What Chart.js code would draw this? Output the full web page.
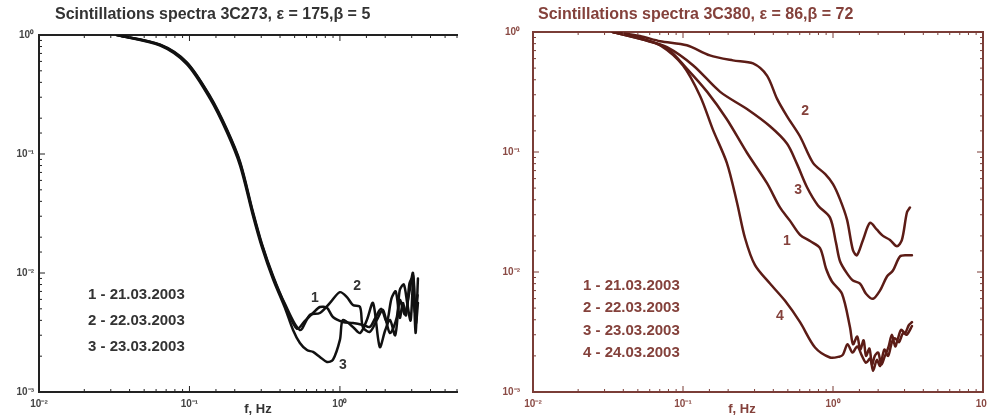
<!DOCTYPE html>
<html lang="en">
  <head>
    <meta charset="utf-8" />
    <title>Scintillations spectra 3C273 / 3C380</title>
    <script src="https://cdn.jsdelivr.net/npm/chart.js"></script>
    <style>
      body {
        margin: 0;
        width: 987px;
        height: 417px;
        overflow: hidden;
        position: relative;
        background: #fff;
      }
      #left {
        position: absolute;
        left: 0;
        top: 0;
      }
      #right {
        position: absolute;
        left: 490px;
        top: 0;
      }
    </style>
  </head>
  <body>
    <canvas id="left" width="490" height="417"></canvas>
    <canvas id="right" width="497" height="417"></canvas>

    <script>
      // 3C273 (left panel), f in Hz, spectrum normalised
      const f273_1 = [0.033, 0.064, 0.096, 0.137, 0.177, 0.217, 0.264, 0.303, 0.359, 0.431, 0.518, 0.59, 0.663, 0.736, 0.82, 0.898, 1.047, 1.22, 1.42, 1.58, 1.72, 1.88, 2.05, 2.2, 2.35, 2.5, 2.62, 2.75, 2.9, 3.03, 3.15, 3.28];
      const p273_1 = [1.0, 0.824, 0.582, 0.301, 0.159, 0.084, 0.0319, 0.0172, 0.00925, 0.00538, 0.0034, 0.004, 0.00461, 0.00518, 0.0051, 0.00427, 0.00388, 0.0038, 0.00366, 0.00352, 0.0042, 0.005, 0.0039, 0.0061, 0.007, 0.0042, 0.0056, 0.0044, 0.0082, 0.009, 0.0047, 0.0065];
      const f273_2 = [0.033, 0.064, 0.096, 0.137, 0.177, 0.217, 0.264, 0.303, 0.359, 0.431, 0.542, 0.633, 0.736, 0.859, 1.0, 1.113, 1.22, 1.36, 1.42, 1.58, 1.76, 1.93, 2.15, 2.39, 2.5, 2.66, 2.8, 2.95, 3.08, 3.2, 3.3];
      const p273_2 = [1.0, 0.83, 0.59, 0.306, 0.162, 0.086, 0.0328, 0.0176, 0.0095, 0.0055, 0.00332, 0.00446, 0.00461, 0.0056, 0.0069, 0.00628, 0.00538, 0.00518, 0.00352, 0.0032, 0.00403, 0.00489, 0.00313, 0.00427, 0.0072, 0.008, 0.0056, 0.004, 0.0095, 0.0038, 0.0056];
      const f273_3 = [0.033, 0.064, 0.096, 0.137, 0.177, 0.217, 0.264, 0.303, 0.359, 0.431, 0.488, 0.542, 0.604, 0.663, 0.736, 0.82, 0.898, 1.0, 1.047, 1.22, 1.36, 1.51, 1.66, 1.84, 2.0, 2.15, 2.33, 2.5, 2.7, 2.9, 3.06, 3.18, 3.3];
      const p273_3 = [1.0, 0.815, 0.57, 0.292, 0.153, 0.08, 0.0305, 0.0165, 0.0089, 0.0051, 0.00332, 0.00258, 0.00225, 0.00217, 0.00197, 0.00179, 0.00186, 0.00274, 0.00403, 0.00352, 0.00313, 0.00403, 0.0056, 0.00239, 0.0033, 0.00403, 0.003, 0.00593, 0.0045, 0.007, 0.01, 0.00313, 0.009];

      // 3C380 (right panel)
      const f380_1 = [0.0341, 0.0558, 0.0782, 0.106, 0.145, 0.196, 0.267, 0.363, 0.443, 0.516, 0.603, 0.703, 0.819, 0.898, 0.984, 1.148, 1.298, 1.36, 1.45, 1.52, 1.6, 1.66, 1.75, 1.82, 1.9, 2.0, 2.1, 2.22, 2.35, 2.47, 2.6, 2.71, 2.85, 3.02, 3.2, 3.36];
      const p380_1 = [1.0, 0.856, 0.732, 0.496, 0.317, 0.1875, 0.0986, 0.055, 0.0345, 0.0268, 0.0204, 0.0181, 0.0158, 0.0107, 0.00833, 0.00659, 0.00347, 0.0025, 0.0029, 0.00226, 0.0027, 0.002, 0.0023, 0.00169, 0.002, 0.00213, 0.0017, 0.002, 0.0024, 0.003, 0.0024, 0.0028, 0.0033, 0.0031, 0.0036, 0.00382];
      const f380_2 = [0.0341, 0.0516, 0.0703, 0.106, 0.151, 0.215, 0.293, 0.363, 0.424, 0.493, 0.603, 0.736, 0.885, 1.0, 1.114, 1.24, 1.358, 1.445, 1.585, 1.766, 1.963, 2.153, 2.4, 2.67, 2.88, 3.11, 3.26];
      const p380_2 = [1.0, 0.925, 0.839, 0.776, 0.639, 0.58, 0.547, 0.433, 0.277, 0.199, 0.1346, 0.0812, 0.0656, 0.054, 0.0403, 0.0273, 0.0152, 0.0138, 0.0185, 0.0257, 0.0225, 0.02, 0.0185, 0.0164, 0.0185, 0.0313, 0.0345];
      const f380_3 = [0.0341, 0.0558, 0.0782, 0.117, 0.177, 0.267, 0.38, 0.493, 0.575, 0.671, 0.794, 0.955, 1.047, 1.114, 1.24, 1.358, 1.514, 1.66, 1.849, 2.056, 2.29, 2.51, 2.8, 3.11, 3.36];
      const p380_3 = [1.0, 0.856, 0.747, 0.526, 0.317, 0.228, 0.1637, 0.1175, 0.0796, 0.0509, 0.0359, 0.0284, 0.0175, 0.0123, 0.00973, 0.00849, 0.00801, 0.00659, 0.00598, 0.00699, 0.00918, 0.0103, 0.0135, 0.0138, 0.0138];
      const f380_4 = [0.0341, 0.0516, 0.0703, 0.1, 0.13, 0.158, 0.196, 0.229, 0.259, 0.302, 0.38, 0.479, 0.603, 0.759, 0.955, 1.1, 1.166, 1.25, 1.35, 1.45, 1.56, 1.66, 1.77, 1.85, 1.96, 2.06, 2.2, 2.33, 2.47, 2.59, 2.75, 2.93, 3.1, 3.36];
      const p380_4 = [1.0, 0.89, 0.776, 0.526, 0.293, 0.1543, 0.0812, 0.038, 0.0192, 0.0114, 0.00801, 0.00575, 0.00382, 0.00235, 0.00194, 0.00197, 0.00205, 0.0025, 0.00213, 0.0024, 0.002, 0.00175, 0.0019, 0.0015, 0.00185, 0.00165, 0.00226, 0.002, 0.0026, 0.0028, 0.0026, 0.0031, 0.003, 0.00354];

      const legend273 = ["1 - 21.03.2003", "2 - 22.03.2003", "3 - 23.03.2003"];
      const legend380 = ["1 - 21.03.2003", "2 - 22.03.2003", "3 - 23.03.2003", "4 - 24.03.2003"];

      const FONT = "'Liberation Sans', Arial, sans-serif";
      const sup = { "-": "⁻", 0: "⁰", 1: "¹", 2: "²", 3: "³" };

      function isDecade(v) {
        const e = Math.log10(v);
        return Math.abs(e - Math.round(e)) < 1e-6;
      }
      function powLabel(v) {
        if (!isDecade(v)) return "";
        return "10" + String(Math.round(Math.log10(v))).split("").map((c) => sup[c]).join("");
      }
      function series(f, p) {
        return f.map((v, i) => ({ x: v, y: p[i] }));
      }

      // small inward ticks on every side, like the original plots
      const innerTicks = {
        id: "innerTicks",
        afterDatasetsDraw(chart, args, o) {
          const { ctx, chartArea: a } = chart;
          ctx.save();
          ctx.strokeStyle = o.color;
          ctx.lineWidth = 1;
          ctx.beginPath();
          chart.scales.x.ticks.forEach((t) => {
            const p = chart.scales.x.getPixelForValue(t.value);
            const len = isDecade(t.value) ? 6 : 3;
            ctx.moveTo(p, a.bottom);
            ctx.lineTo(p, a.bottom - len);
            ctx.moveTo(p, a.top);
            ctx.lineTo(p, a.top + len);
          });
          chart.scales.y.ticks.forEach((t) => {
            const p = chart.scales.y.getPixelForValue(t.value);
            const len = isDecade(t.value) ? 6 : 3;
            ctx.moveTo(a.left, p);
            ctx.lineTo(a.left + len, p);
            if (o.right) {
              ctx.moveTo(a.right, p);
              ctx.lineTo(a.right - len, p);
            }
          });
          ctx.stroke();
          ctx.restore();
        },
      };

      // title, axis name, date list and curve numbers
      const notes = {
        id: "notes",
        afterDraw(chart, args, o) {
          const { ctx, chartArea: a, scales } = chart;
          ctx.save();
          ctx.fillStyle = o.color;
          ctx.textBaseline = "middle";
          ctx.textAlign = "left";
          ctx.font = "bold 16px " + FONT;
          ctx.fillText(o.title, o.titleX, o.titleY);
          ctx.font = "bold 13px " + FONT;
          ctx.textAlign = "center";
          ctx.fillText("f, Hz", o.axisX, o.axisY);
          ctx.textAlign = "left";
          ctx.font = "bold 15px " + FONT;
          o.lines.forEach((t, i) => {
            ctx.fillText(t, a.left + o.legendDx, o.legendY + i * o.legendStep);
          });
          ctx.font = "bold 14px " + FONT;
          ctx.textAlign = "center";
          o.marks.forEach((m) => {
            ctx.fillText(m.text, scales.x.getPixelForValue(m.f), scales.y.getPixelForValue(m.p));
          });
          ctx.restore();
        },
      };

      function makePanel(el, cfg) {
        const axisFont = { family: FONT, size: 10, weight: "bold" };
        const border = { display: true, color: cfg.axisColor, width: 2 };
        const grid = { drawOnChartArea: false, drawTicks: false };
        const noPad = (s) => {
          s.paddingLeft = 0;
          s.paddingRight = 0;
          s.paddingTop = 0;
          s.paddingBottom = 0;
        };
        const scales = {
          x: {
            type: "logarithmic",
            position: "bottom",
            min: 0.01,
            max: cfg.xMax,
            grid,
            border,
            ticks: { autoSkip: false, maxRotation: 0, padding: 6, font: axisFont, color: cfg.tickColor, callback: powLabel },
            afterFit: (s) => {
              s.height = 25;
              noPad(s);
            },
          },
          xTop: {
            type: "logarithmic",
            position: "top",
            min: 0.01,
            max: cfg.xMax,
            grid,
            border,
            ticks: { display: false },
            afterFit: (s) => {
              s.height = 0;
              noPad(s);
            },
          },
          y: {
            type: "logarithmic",
            position: "left",
            min: 0.001,
            max: 1,
            grid,
            border,
            ticks: { autoSkip: false, padding: cfg.yPad, font: axisFont, color: cfg.tickColor, callback: powLabel },
            afterFit: (s) => {
              s.width = cfg.yWidth;
              noPad(s);
            },
          },
        };
        if (cfg.rightAxis) {
          scales.yR = {
            type: "logarithmic",
            position: "right",
            min: 0.001,
            max: 1,
            grid,
            border,
            ticks: { display: false },
            afterFit: (s) => {
              s.width = 0;
              noPad(s);
            },
          };
        }
        return new Chart(el, {
          type: "line",
          data: {
            datasets: cfg.curves.map((c) => ({
              data: c,
              borderColor: cfg.lineColor,
              borderWidth: 2.5,
              pointRadius: 0,
              tension: 0.3,
              borderJoinStyle: "round",
              borderCapStyle: "round",
            })),
          },
          options: {
            responsive: false,
            animation: false,
            layout: { padding: { top: cfg.top, right: cfg.padRight, left: 0, bottom: 0 } },
            plugins: {
              legend: { display: false },
              tooltip: { enabled: false },
              innerTicks: { color: cfg.axisColor, right: cfg.rightAxis },
              notes: cfg.notes,
            },
            scales,
          },
          plugins: [innerTicks, notes],
        });
      }

      makePanel(document.getElementById("left"), {
        xMax: 6.0,
        top: 35,
        padRight: 33,
        yWidth: 39,
        yPad: 5,
        rightAxis: false,
        lineColor: "#111111",
        axisColor: "#222222",
        tickColor: "#444444",
        curves: [series(f273_1, p273_1), series(f273_2, p273_2), series(f273_3, p273_3)],
        notes: {
          color: "#333333",
          title: "Scintillations spectra 3C273, ε = 175,β = 5",
          titleX: 55,
          titleY: 15,
          axisX: 258,
          axisY: 409,
          lines: legend273,
          legendDx: 49,
          legendY: 295,
          legendStep: 26,
          marks: [
            { text: "1", f: 0.683, p: 0.00617 },
            { text: "2", f: 1.3, p: 0.00778 },
            { text: "3", f: 1.047, p: 0.00169 },
          ],
        },
      });

      makePanel(document.getElementById("right"), {
        xMax: 10,
        top: 32,
        padRight: 4,
        yWidth: 43,
        yPad: 13,
        rightAxis: true,
        lineColor: "#5c1c16",
        axisColor: "#7a3d37",
        tickColor: "#8a4a44",
        curves: [series(f380_1, p380_1), series(f380_2, p380_2), series(f380_3, p380_3), series(f380_4, p380_4)],
        notes: {
          color: "#84413b",
          title: "Scintillations spectra 3C380, ε = 86,β = 72",
          titleX: 48,
          titleY: 15,
          axisX: 252,
          axisY: 409,
          lines: legend380,
          legendDx: 50,
          legendY: 286,
          legendStep: 22.3,
          marks: [
            { text: "2", f: 0.651, p: 0.219 },
            { text: "3", f: 0.585, p: 0.048 },
            { text: "1", f: 0.493, p: 0.0181 },
            { text: "4", f: 0.443, p: 0.0043 },
          ],
        },
      });
    </script>
  </body>
</html>
